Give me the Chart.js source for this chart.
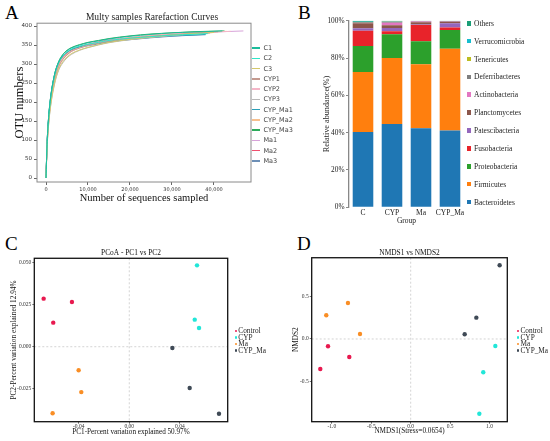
<!DOCTYPE html>
<html><head><meta charset="utf-8">
<script src="https://cdn.jsdelivr.net/npm/chart.js@4"></script>
<style>
html,body{margin:0;padding:0;background:#fff;width:550px;height:441px;overflow:hidden;position:relative}
canvas{position:absolute}
.lbl{position:absolute;font-family:"Liberation Serif",serif;color:#000;line-height:1;white-space:nowrap}
.lg{position:absolute;white-space:nowrap}
</style></head><body>
<div class="lbl" style="left:5px;top:3px;font-size:19px">A</div>
<div class="lbl" style="left:298px;top:3px;font-size:19px">B</div>
<div class="lbl" style="left:5px;top:234px;font-size:19px">C</div>
<div class="lbl" style="left:297px;top:234px;font-size:19px">D</div>
<canvas id="cA" width="304" height="215" style="left:0;top:0"></canvas>
<canvas id="cB" width="166" height="228" style="left:300px;top:0"></canvas>
<canvas id="cC" width="232" height="216" style="left:0;top:225px"></canvas>
<canvas id="cD" width="236" height="216" style="left:280px;top:225px"></canvas>
<div id="legends"></div>
<script>
// ---------- Panel A: rarefaction curves ----------
const depthGrid = [0,250,500,1000,2000,3000,4000,5000,6000,8000,10000,12500,15000,20000,25000,30000,35000];
const sampleNames = ['C1','C2','C3','CYP1','CYP2','CYP3','CYP_Ma1','CYP_Ma2','CYP_Ma3','Ma1','Ma2','Ma3'];
const otuC1     = [0,88,140,202,270,305,324,335,342,350,356,361,366,373,378,382,384];
const otuC2     = [0,87,138,200,267,302,320,331,339,347,352,357,362,368,372,376,378];
const otuC3     = [0,78,125,182,248,286,306,318,327,337,344,351,357,365,371,376,380];
const otuCYP1   = [0,82,130,190,256,293,312,324,333,342,349,355,360,368,373,377,381];
const otuCYP2   = [0,80,128,188,254,291,311,323,332,342,349,356,361,368,374,379,382];
const otuCYP3   = [0,76,122,180,245,283,303,316,325,336,343,350,356,364,370,375,379];
const otuCYPMa1 = [0,90,142,204,270,304,321,331,338,345,350,355,359,365,370,374,376];
const otuCYPMa2 = [0,83,132,192,258,295,314,326,334,344,350,356,361,369,375,379,382];
const otuCYPMa3 = [0,89,141,203,271,306,325,336,343,351,357,362,367,374,379,382,385];
const otuMa1    = [0,84,133,193,259,296,316,327,335,344,351,357,362,369,375,379,382];
const otuMa2    = [0,85,135,195,262,299,318,329,337,346,352,358,363,369,374,378,381];
const otuMa3    = [0,89,140,202,268,302,319,329,336,343,348,353,358,364,369,373,376];
const endDepth  = [42000,38500,40000,41000,44000,39000,38000,43000,42500,47000,40000,38000];
const endOTU    = [387,380,383,385,386,381,378,386,387,387,383,377];
const xTicksA = [0,10000,20000,30000,40000];
const yTicksA = [0,50,100,150,200,250,300,350,400];

// ---------- Panel B: relative abundance ----------
const groups = ['C','CYP','Ma','CYP_Ma'];
const phyla = ['Bacteroidetes','Firmicutes','Proteobacteria','Fusobacteria','Patescibacteria','Planctomycetes','Actinobacteria','Deferribacteres','Tenericutes','Verrucomicrobia','Others'];
const abBacteroidetes   = [40.4,44.6,42.3,41.2];
const abFirmicutes      = [32.1,35.4,34.3,43.8];
const abProteobacteria  = [13.9,12.8,12.4,10.0];
const abFusobacteria    = [8.2,1.5,8.7,1.4];
const abPatescibacteria = [1.3,1.8,0.3,2.2];
const abPlanctomycetes  = [2.7,1.4,1.2,0.9];
const abActinobacteria  = [0.2,1.4,0.4,0.1];
const abDeferribacteres = [0.4,0.6,0.3,0.3];
const abTenericutes     = [0.1,0.1,0.0,0.0];
const abVerrucomicrobia = [0.1,0.3,0.0,0.0];
const abOthers          = [0.6,0.1,0.1,0.1];
const yTicksB = [0,20,40,60,80,100];

// ---------- Panel C: PCoA ----------
const groupNames = ['Control','CYP','Ma','CYP_Ma'];
const pcoaControlX = [-0.0678,-0.0454,-0.0602]; const pcoaControlY = [0.0286,0.0266,0.0143];
const pcoaCYPX     = [0.0536,0.0518,0.0552];    const pcoaCYPY     = [0.0484,0.0161,0.0111];
const pcoaMaX      = [-0.0401,-0.0380,-0.0607]; const pcoaMaY      = [-0.0140,-0.0270,-0.0396];
const pcoaCYPMaX   = [0.0341,0.0478,0.0710];    const pcoaCYPMaY   = [-0.0008,-0.0246,-0.0399];

// ---------- Panel D: NMDS ----------
const nmdsControlX = [-1.049,-0.779,-1.147]; const nmdsControlY = [-0.086,-0.212,-0.353];
const nmdsCYPX     = [1.074,0.921,0.871];    const nmdsCYPY     = [-0.082,-0.392,-0.879];
const nmdsMaX      = [-0.796,-1.071,-0.643]; const nmdsMaY      = [0.424,0.279,0.059];
const nmdsCYPMaX   = [1.129,0.833,0.685];    const nmdsCYPMaY   = [0.867,0.251,0.055];

// ---------- styles ----------
const SERIF = "'Liberation Serif','Times New Roman',serif";
const SANS = "'DejaVu Sans',sans-serif";
const curveColors = ['#1bbc9b','#2ee6c8','#d4c86a','#c49a8f','#f4b6c8','#b8b8b8','#2a9fb8','#f7bf8e','#2bab5a','#d7a3d9','#f0506e','#6d8fb6'];
const phylaColors = ['#1f77b4','#ff7f0e','#2ca02c','#e8232a','#9467bd','#8c564b','#e377c2','#7f7f7f','#bcbd22','#17becf','#1b9e77'];
const groupColors = ['#e8194f','#22e6d8','#f98e25','#3f4a56'];

const framePlugin = {id:'frame', afterDraw(chart, args, opts){
  if(!opts || !opts.color) return;
  const {ctx, chartArea:a} = chart;
  ctx.save(); ctx.strokeStyle = opts.color; ctx.lineWidth = opts.width;
  ctx.strokeRect(a.left, a.top, a.right-a.left, a.bottom-a.top); ctx.restore();
}};
const zeroPlugin = {id:'zeroLines', beforeDatasetsDraw(chart){
  const {ctx, chartArea:a, scales:{x,y}} = chart;
  const px = x.getPixelForValue(0), py = y.getPixelForValue(0);
  ctx.save(); ctx.strokeStyle = '#cfcfcf'; ctx.lineWidth = 0.9; ctx.setLineDash([2,2]);
  ctx.beginPath(); ctx.moveTo(px,a.top); ctx.lineTo(px,a.bottom); ctx.moveTo(a.left,py); ctx.lineTo(a.right,py); ctx.stroke();
  ctx.restore();
}};

// ---------- Chart A ----------
const otuSeries = [otuC1,otuC2,otuC3,otuCYP1,otuCYP2,otuCYP3,otuCYPMa1,otuCYPMa2,otuCYPMa3,otuMa1,otuMa2,otuMa3];
function buildCurve(vals, endD, endV){
  const pts = [];
  depthGrid.forEach((d,k)=>{ if(d < endD) pts.push({x:d, y:vals[k]}); });
  pts.push({x:endD, y:endV});
  return pts;
}
new Chart(document.getElementById('cA'), {
  type:'line',
  data:{datasets: sampleNames.map((n,i)=>({label:n, data:buildCurve(otuSeries[i], endDepth[i], endOTU[i]),
    borderColor:curveColors[i], borderWidth:1, pointRadius:0, cubicInterpolationMode:'monotone', fill:false}))},
  options:{responsive:false, animation:false, events:[],
    layout:{padding:0},
    plugins:{legend:{display:false}, tooltip:{enabled:false},
      title:{display:true, text:'Multy samples Rarefaction Curves', fullSize:true, color:'#222',
        font:{family:SERIF, size:9.5, weight:'normal'}, padding:{top:11.8, bottom:0}},
      frame:{color:'#8a8a8a', width:1}},
    scales:{
      x:{type:'linear', min:-2143, max:48810, afterFit(s){s.height=33;},
        grid:{display:true, drawOnChartArea:false, tickLength:3, color:'#666'}, border:{display:false},
        afterBuildTicks(s){ s.ticks = xTicksA.map(v=>({value:v})); },
        ticks:{maxRotation:0, padding:1.5, color:'#333', font:{family:SANS, size:5}, callback:v=>Number(v).toLocaleString('en-US')},
        title:{display:true, text:'Number of sequences sampled', color:'#111', font:{family:SERIF, size:10.5}, padding:{top:0,bottom:10}}},
      y:{type:'linear', min:-10.5, max:407.4, afterFit(s){s.width=37;},
        grid:{display:true, drawOnChartArea:false, tickLength:3, color:'#666'}, border:{display:false},
        afterBuildTicks(s){ s.ticks = yTicksA.map(v=>({value:v})); },
        ticks:{padding:2, color:'#333', font:{family:SANS, size:5.5}},
        title:{display:true, text:'OTU numbers', color:'#111', font:{family:SERIF, size:12.5}, padding:{top:12,bottom:0}}},
      yR:{type:'linear', position:'right', display:true, afterFit(s){s.width=53;},
        grid:{display:false, drawTicks:false}, border:{display:false}, ticks:{display:false}}
    }},
  plugins:[framePlugin]
});

// ---------- Chart B ----------
const abundance = [abBacteroidetes,abFirmicutes,abProteobacteria,abFusobacteria,abPatescibacteria,abPlanctomycetes,abActinobacteria,abDeferribacteres,abTenericutes,abVerrucomicrobia,abOthers];
new Chart(document.getElementById('cB'), {
  type:'bar',
  data:{labels:groups, datasets: phyla.map((p,i)=>({label:p, data:abundance[i], backgroundColor:phylaColors[i], borderWidth:0, barPercentage:0.71, categoryPercentage:1.0}))},
  options:{responsive:false, animation:false, events:[],
    layout:{padding:{top:20.7, right:1.5, left:0, bottom:0}},
    plugins:{legend:{display:false}, tooltip:{enabled:false}},
    scales:{
      x:{stacked:true, afterFit(s){s.height=20.7;}, grid:{display:false, drawTicks:false}, border:{display:false},
        ticks:{padding:1, maxRotation:0, minRotation:0, autoSkip:false, color:'#222', font:{family:SERIF, size:7.5}},
        title:{display:true, text:'Group', color:'#222', font:{family:SERIF, size:7.5}, padding:{top:0,bottom:2.5}}},
      y:{stacked:true, min:0, max:100, afterFit(s){s.width=48.5;},
        afterBuildTicks(s){ s.ticks = yTicksB.map(v=>({value:v})); },
        grid:{display:true, drawOnChartArea:false, tickLength:2.5, color:'#888'}, border:{display:true, color:'#888', width:1.3},
        ticks:{padding:1.5, color:'#222', font:{family:SERIF, size:7.3}, callback:v=>v+'%'},
        title:{display:true, text:'Relative abundance(%)', color:'#222', font:{family:SERIF, size:8.2}, padding:{top:22,bottom:0}}}
    }}
});

// ---------- Chart C / D ----------
function zipPts(xs, ys){ return xs.map((v,i)=>({x:v, y:ys[i]})); }
function scatterCfg(sets, title, xt, yt, xr, yr, xStep, yStep, xFmt, yFmt, fit){
  return {
    type:'scatter',
    data:{datasets: sets.map((s,i)=>({label:groupNames[i], data:s, backgroundColor:groupColors[i], borderWidth:0, pointRadius:2.2}))},
    options:{responsive:false, animation:false, events:[],
      layout:{padding:{top:0, left:0, right:fit.right, bottom:0}},
      plugins:{legend:{display:false}, tooltip:{enabled:false},
        title:{display:true, text:title, fullSize:false, color:'#111', font:{family:SERIF, size:7.4, weight:'normal'}, padding:{top:23.85, bottom:fit.tb}},
        frame:{color:'#111', width:1.3}},
      scales:{
        x:{type:'linear', min:xr[0], max:xr[1], afterFit(s){s.height=19.3;},
          grid:{display:true, drawOnChartArea:false, tickLength:2, color:'#777'}, border:{display:false},
          ticks:{stepSize:xStep, includeBounds:false, maxRotation:0, padding:0, color:'#333', font:{family:SERIF, size:5.5}, callback:xFmt},
          title:{display:true, text:xt, color:'#111', font:{family:SERIF, size:7.2}, padding:{top:0,bottom:fit.xb}}},
        y:{type:'linear', min:yr[0], max:yr[1], afterFit(s){s.width=fit.yw;},
          grid:{display:true, drawOnChartArea:false, tickLength:2, color:'#777'}, border:{display:false},
          ticks:{stepSize:yStep, includeBounds:false, padding:1, color:'#333', font:{family:SERIF, size:5.5}, callback:yFmt},
          title:{display:true, text:yt, color:'#111', font:{family:SERIF, size:7.3}, padding:{top:fit.yp,bottom:0}}}
      }},
    plugins:[zeroPlugin, framePlugin]
  };
}
new Chart(document.getElementById('cC'), scatterCfg(
  [zipPts(pcoaControlX,pcoaControlY), zipPts(pcoaCYPX,pcoaCYPY), zipPts(pcoaMaX,pcoaMaY), zipPts(pcoaCYPMaX,pcoaCYPMaY)],
  'PCoA - PC1 vs PC2', 'PC1-Percent variation explained 50.97%', 'PC2-Percent variation explained 12.94%',
  [-0.0752,0.0779], [-0.0446,0.0526], 0.04, 0.025, v=>Number(v).toFixed(2), v=>Number(v).toFixed(3),
  {right:4.3, tb:0.55, xb:5, yw:34.3, yp:9.7}));
new Chart(document.getElementById('cD'), scatterCfg(
  [zipPts(nmdsControlX,nmdsControlY), zipPts(nmdsCYPX,nmdsCYPY), zipPts(nmdsMaX,nmdsMaY), zipPts(nmdsCYPMaX,nmdsCYPMaY)],
  'NMDS1 vs NMDS2', 'NMDS1(Stress=0.0654)', 'NMDS2',
  [-1.256,1.226], [-0.973,0.956], 0.5, 0.5, v=>Number(v).toFixed(1), v=>Number(v).toFixed(1),
  {right:8.7, tb:0, xb:5.7, yw:31.7, yp:11.4}));

// ---------- HTML legends ----------
const L = document.getElementById('legends');
function add(html){ L.insertAdjacentHTML('beforeend', html); }
sampleNames.forEach((n,i)=>{
  const cy = 48 + i*10.27;
  add(`<div class="lg" style="left:252px;top:${cy-0.7}px;width:8px;height:1.4px;background:${curveColors[i]}"></div>`);
  add(`<div class="lg" style="left:263.5px;top:${cy-4}px;font:6.5px/8px ${SANS};color:#444">${n}</div>`);
});
phyla.slice().reverse().forEach((p,k)=>{
  const i = phyla.length-1-k;
  const cy = 23.3 + k*17.87;
  add(`<div class="lg" style="left:466.5px;top:${cy-2.3}px;width:4.6px;height:4.6px;background:${phylaColors[i]}"></div>`);
  add(`<div class="lg" style="left:474px;top:${cy-4.5}px;font:7.5px/9px ${SERIF};color:#222">${p}</div>`);
});
groupNames.forEach((g,i)=>{
  const cy = 331 + i*6.5;
  [[234.8,238.3],[517,520.5]].forEach(([dx,tx])=>{
    add(`<div class="lg" style="left:${dx}px;top:${cy-1.2}px;width:2.4px;height:2.4px;border-radius:50%;background:${groupColors[i]}"></div>`);
    add(`<div class="lg" style="left:${tx}px;top:${cy-4}px;font:7.3px/8px ${SERIF};color:#222">${g}</div>`);
  });
});
</script>
</body></html>
